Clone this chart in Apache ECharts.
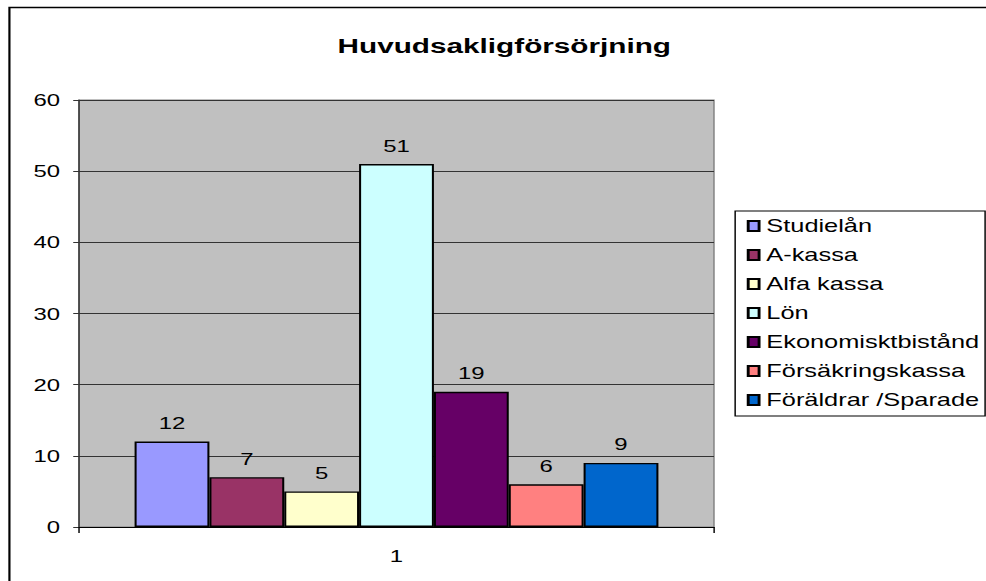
<!DOCTYPE html>
<html>
<head>
<meta charset="utf-8">
<script src="https://cdn.jsdelivr.net/npm/echarts@6/dist/echarts.min.js"></script>
<style>
  html, body { margin: 0; padding: 0; background: #fff; overflow: hidden; }
  /* Excel-bilden är utdragen på bredden, så diagrammet ritas smalare och sträcks ut */
  #chart { width: 680px; height: 581px; transform: scaleX(1.45); transform-origin: 0 0; }
</style>
</head>
<body>
<div id="chart"></div>
<script>
// data
var categories = ['1'];
var seriesNames = ['Studielån', 'A-kassa', 'Alfa kassa', 'Lön', 'Ekonomisktbistånd', 'Försäkringskassa', 'Föräldrar /Sparade'];
var seriesValues = [12, 7, 5, 51, 19, 6, 9];
var seriesColors = ['#9999FF', '#993366', '#FFFFCC', '#CCFFFF', '#660066', '#FF8080', '#0066CC'];

var font = 'Liberation Sans, Arial, sans-serif';
var myChart = echarts.init(document.getElementById('chart'), null, { renderer: 'svg' });

var series = [];
for (var i = 0; i < seriesNames.length; i++) {
    series.push({
        name: seriesNames[i],
        type: 'bar',
        data: [seriesValues[i]],
        barGap: '0%',
        barCategoryGap: '17.5%',
        itemStyle: {
            color: seriesColors[i],
            borderColor: '#000',
            borderWidth: 1.4
        },
        label: {
            show: true,
            position: 'top',
            distance: 10,
            color: '#000',
            fontFamily: font,
            fontSize: 16.5
        }
    });
}

myChart.setOption({
    animation: false,
    title: {
        text: 'Huvudsakligförsörjning',
        left: 342.8,
        textAlign: 'center',
        top: 30,
        textStyle: {
            fontFamily: font,
            fontWeight: 'bold',
            fontSize: 20.5,
            color: '#000'
        }
    },
    legend: {
        orient: 'vertical',
        left: 507,
        top: 211,
        width: 172,
        icon: 'rect',
        itemWidth: 7.5,
        itemHeight: 10,
        itemGap: 11,
        padding: [6, 4, 7, 8],
        borderColor: '#000',
        borderWidth: 1,
        textStyle: {
            fontFamily: font,
            fontSize: 17.5,
            color: '#000'
        },
        data: seriesNames
    },
    grid: {
        left: 54.5,
        right: 187.6,
        top: 100,
        bottom: 54,
        show: true,
        backgroundColor: '#C0C0C0',
        borderColor: '#808080',
        borderWidth: 1
    },
    xAxis: {
        type: 'category',
        data: categories,
        axisLine: { lineStyle: { color: '#000', width: 1 } },
        axisTick: { show: true, length: 6, lineStyle: { color: '#000' } },
        axisLabel: { margin: 20, color: '#000', fontFamily: font, fontSize: 16.5 }
    },
    yAxis: {
        type: 'value',
        min: 0,
        max: 60,
        interval: 10,
        axisLine: { show: true, lineStyle: { color: '#333', width: 1 } },
        axisTick: { show: true, length: 4, lineStyle: { color: '#333' } },
        axisLabel: { margin: 13, color: '#000', fontFamily: font, fontSize: 16.5 },
        splitLine: { show: true, lineStyle: { color: '#333', width: 1 } }
    },
    // ramen runt diagrammet: bara överkant och vänsterkant syns i bilden
    graphic: [{
        type: 'rect',
        shape: { x: 6.5, y: 7.5, width: 700, height: 620 },
        style: { fill: 'none', stroke: '#000', lineWidth: 1.5 },
        silent: true
    }],
    series: series
});
</script>
</body>
</html>
